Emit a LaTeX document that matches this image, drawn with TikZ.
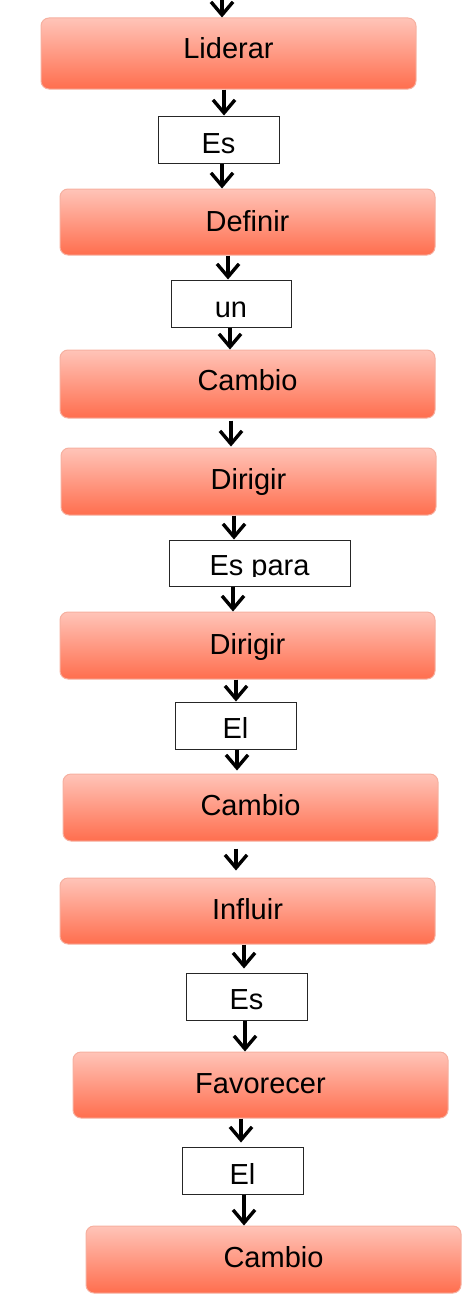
\documentclass[tikz,border=0pt]{standalone}
\usepackage{fontspec}
\setmainfont{Liberation Sans}
\usetikzlibrary{arrows.meta}
\definecolor{boxtop}{RGB}{255,196,184}
\definecolor{boxbot}{RGB}{255,110,78}
\definecolor{boxline}{RGB}{246,176,160}
\tikzset{
  mainbox/.style={rectangle, rounded corners=8pt, draw=boxline, line width=1pt,
    top color=boxtop, bottom color=boxbot, inner sep=0pt},
  labelbox/.style={rectangle, draw=black!85, line width=1pt, fill=white, inner sep=0pt},
  txt/.style={anchor=base, inner sep=0pt, font=\fontsize{29}{29}\selectfont},
  arr/.style={line width=3.4pt, -{Straight Barb[length=13pt,width=22pt]}}
}
\begin{document}
\begin{tikzpicture}[x=1pt,y=-1pt]
\useasboundingbox (0,0) rectangle (465,1306);
% main boxes
\node[mainbox, minimum width=375pt, minimum height=71pt] (b1) at (228.5,53.5) {};
\node[mainbox, minimum width=375pt, minimum height=66pt] (b2) at (247.5,222) {};
\node[mainbox, minimum width=375pt, minimum height=68pt] (b3) at (247.5,384) {};
\node[mainbox, minimum width=375pt, minimum height=67pt] (b4) at (248.5,481.5) {};
\node[mainbox, minimum width=375pt, minimum height=67pt] (b5) at (247.5,645.5) {};
\node[mainbox, minimum width=375pt, minimum height=67pt] (b6) at (250.5,807.5) {};
\node[mainbox, minimum width=375pt, minimum height=66pt] (b7) at (247.5,911) {};
\node[mainbox, minimum width=375pt, minimum height=66pt] (b8) at (260.5,1085) {};
\node[mainbox, minimum width=375pt, minimum height=67pt] (b9) at (273.5,1259.5) {};
% main texts
\node[txt] (t1) at (228.5,59) {Liderar};
\node[txt] (t2) at (247.5,231) {Definir};
\node[txt] (t3) at (247.5,390) {Cambio};
\node[txt] (t4) at (248.5,489) {Dirigir};
\node[txt] (t5) at (247.5,654) {Dirigir};
\node[txt] (t6) at (250.5,815) {Cambio};
\node[txt] (t7) at (247.5,919) {Influir};
\node[txt] (t8) at (260.5,1093) {Favorecer};
\node[txt] (t9) at (273.5,1267) {Cambio};
% label boxes
\node[labelbox, minimum width=121pt, minimum height=47pt] (l1) at (218.5,139.5) {};
\node[labelbox, minimum width=120pt, minimum height=47pt] (l2) at (231,303.5) {};
\node[labelbox, minimum width=181pt, minimum height=46pt] (l3) at (259.5,563) {};
\node[labelbox, minimum width=121pt, minimum height=47pt] (l4) at (235.5,725.5) {};
\node[labelbox, minimum width=121pt, minimum height=47pt] (l5) at (246.5,996.5) {};
\node[labelbox, minimum width=121pt, minimum height=47pt] (l6) at (242.5,1170.5) {};
% label texts
\node[txt] (u1) at (218.5,153) {Es};
\node[txt] (u2) at (231,317) {un};
\begin{scope}
  \clip (170,541) rectangle (349,576.5);
  \node[txt] (u3) at (259.5,575) {Es para};
\end{scope}
\node[txt] (u4) at (235.5,738) {El};
\node[txt] (u5) at (246.5,1009) {Es};
\node[txt] (u6) at (242.5,1184) {El};
% connectors
\coordinate (top) at (222,0);
\draw[arr] (top) -- (b1.north -| 222,0);
\draw[arr] (b1.south -| 224,0) -- (l1.north -| 224,0);
\draw[arr] (l1.south -| 222,0) -- (b2.north -| 222,0);
\draw[arr] (b2.south -| 228,0) -- (l2.north -| 228,0);
\draw[arr] (l2.south -| 230,0) -- (b3.north -| 230,0);
\draw[arr, shorten <=2pt, shorten >=1pt] (b3.south -| 231,0) -- (b4.north -| 231,0);
\draw[arr] (b4.south -| 234,0) -- (l3.north -| 234,0);
\draw[arr] (l3.south -| 233,0) -- (b5.north -| 233,0);
\draw[arr] (b5.south -| 236,0) -- (l4.north -| 236,0);
\draw[arr, shorten >=3pt] (l4.south -| 237,0) -- (b6.north -| 237,0);
\draw[arr, shorten <=7pt, shorten >=7pt] (b6.south -| 236,0) -- (b7.north -| 236,0);
\draw[arr, shorten >=4pt] (b7.south -| 244,0) -- (l5.north -| 244,0);
\draw[arr] (l5.south -| 245,0) -- (b8.north -| 245,0);
\draw[arr, shorten >=4pt] (b8.south -| 241,0) -- (l6.north -| 241,0);
\draw[arr] (l6.south -| 244,0) -- (b9.north -| 244,0);
\end{tikzpicture}
\end{document}
